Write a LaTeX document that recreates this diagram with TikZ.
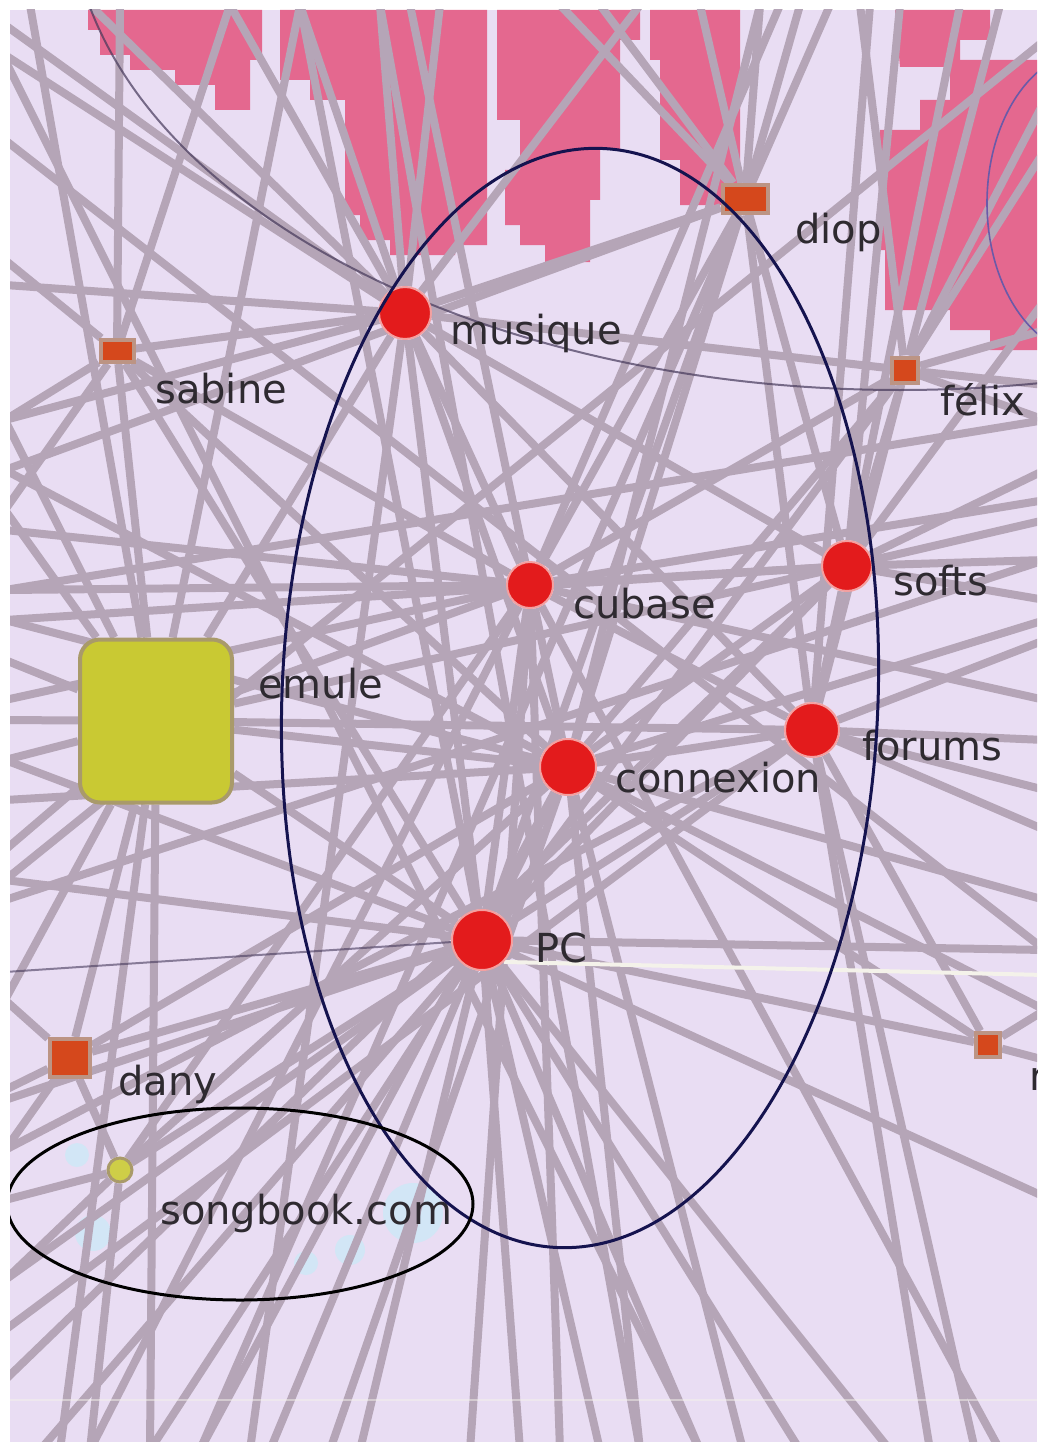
\documentclass[tikz,border=0pt]{standalone}
\usepackage{fontspec}
\setmainfont{DejaVu Sans}
\usetikzlibrary{calc}
\definecolor{SceneLav}{HTML}{E9DDF3}
\definecolor{ScenePink}{HTML}{E4688F}
\definecolor{LinkGray}{HTML}{B5A5B7}
\definecolor{HubRed}{HTML}{E31B1C}
\definecolor{HubRim}{HTML}{F3A0A0}
\definecolor{PeerOrange}{HTML}{D5481C}
\definecolor{PeerRim}{HTML}{BC9484}
\definecolor{EmuleYellow}{HTML}{C9C933}
\definecolor{EmuleRim}{HTML}{A99A6A}
\definecolor{ClusterNavy}{HTML}{15134F}
\definecolor{DuskLine}{HTML}{45385A}
\definecolor{ArcViolet}{HTML}{6A5AA8}
\definecolor{LabelInk}{HTML}{2E2A30}
\definecolor{PaleBlue}{HTML}{D2E6F6}
\definecolor{TraceWhite}{HTML}{F4F2EA}
\pgfdeclarelayer{scenery}
\pgfdeclarelayer{wires}
\pgfsetlayers{scenery,wires,main}

\begin{document}
\begin{tikzpicture}[x=1pt, y=-1pt,
  link/.style={LinkGray, line width=8pt},
  hub/.style={circle, fill=HubRed, draw=HubRim, line width=2pt, inner sep=0pt, minimum size=#1},
  peer/.style 2 args={rectangle, fill=PeerOrange, draw=PeerRim, line width=4pt, inner sep=0pt, minimum width=#1, minimum height=#2},
  tag/.style={font=\fontsize{40}{48}\selectfont, text=LabelInk, anchor=base west, inner sep=0pt},
  ring/.style={line width=3pt}]
\useasboundingbox (0,0) rectangle (1037,1442);

% page, lavender field and pink blobs
\begin{pgfonlayer}{scenery}
\fill[white] (0,0) rectangle (1037,1442);
\fill[SceneLav] (10,10) rectangle (1037,1442);
\begin{scope}
\clip (10,10) rectangle (1037,1442);
\fill[ScenePink] (88,10) -- (262,10) -- (262,60) -- (250,60) -- (250,110) -- (215,110) -- (215,85)
  -- (175,85) -- (175,70) -- (130,70) -- (130,55) -- (100,55) -- (100,30) -- (88,30) -- cycle;
\fill[ScenePink] (280,10) -- (487,10) -- (487,245) -- (455,245) -- (455,255) -- (390,255) -- (390,240)
  -- (360,240) -- (360,215) -- (345,215) -- (345,100) -- (310,100) -- (310,80) -- (280,80) -- cycle;
\fill[ScenePink] (497,10) -- (640,10) -- (640,40) -- (620,40) -- (620,150) -- (600,150) -- (600,200)
  -- (590,200) -- (590,262) -- (545,262) -- (545,245) -- (520,245) -- (520,225) -- (505,225)
  -- (505,170) -- (520,170) -- (520,120) -- (497,120) -- cycle;
\fill[ScenePink] (650,10) -- (740,10) -- (740,205) -- (680,205) -- (680,160) -- (660,160) -- (660,60)
  -- (650,60) -- cycle;
\fill[ScenePink] (895,10) -- (990,10) -- (990,40) -- (960,40) -- (960,67) -- (900,67) -- cycle;
\fill[ScenePink] (880,130) -- (920,130) -- (920,100) -- (950,100) -- (950,60) -- (1037,60) -- (1037,350)
  -- (990,350) -- (990,330) -- (950,330) -- (950,310) -- (885,310) -- (885,250) -- (880,250) -- cycle;
% pale blue spots near songbook
\foreach \x/\y/\r in {77/1155/12, 93/1233/18, 306/1263/12, 413/1213/30, 350/1250/15}
  \fill[PaleBlue] (\x,\y) circle (\r);
\end{scope}
\end{pgfonlayer}

\begin{scope}
\clip (10,10) rectangle (1037,1442);
% nodes
\node[hub=52pt] (musique) at (405,313) {};
\node[hub=46pt] (cubase) at (530,585) {};
\node[hub=50pt] (softs) at (847,566) {};
\node[hub=54pt] (forums) at (812,730) {};
\node[hub=56pt] (connexion) at (568,767) {};
\node[hub=60pt] (pc) at (482,940) {};
\node[peer={45pt}{28pt}] (diop) at (745,199) {};
\node[peer={33pt}{22pt}] (sabine) at (117,351) {};
\node[peer={26pt}{25pt}] (felix) at (905,370) {};
\node[peer={40pt}{38pt}] (dany) at (70,1058) {};
\node[peer={24pt}{24pt}] (rnode) at (988,1045) {};
\node[rectangle, rounded corners=20pt, fill=EmuleYellow, draw=EmuleRim, line width=4pt,
  minimum width=152pt, minimum height=163pt] (emule) at (156,721) {};
\node[circle, fill=EmuleYellow!90!white, draw=EmuleRim, line width=3pt, inner sep=0pt,
  minimum size=24pt] (songbook) at (120,1170) {};

% labels
\node[tag] (musiquetag) at (450,344) {musique};
\node[tag] (dioptag) at (795,243) {diop};
\node[tag] (sabinetag) at (155,403) {sabine};
\node[tag] (felixtag) at (940,415) {félix};
\node[tag] (cubasetag) at (573,618) {cubase};
\node[tag] (softstag) at (893,595) {softs};
\node[tag] (emuletag) at (258,698) {emule};
\node[tag] (forumstag) at (862,760) {forums};
\node[tag] (connexiontag) at (615,792) {connexion};
\node[tag] (pctag) at (535,962) {PC};
\node[tag] (danytag) at (118,1095) {dany};
\node[tag] (songbooktag) at (160,1224) {songbook.com};
\node[tag] (rnodetag) at (1029,1090) {r};

% cluster rings
\draw[ClusterNavy, ring, rotate around={-2.3:(580,698)}] (580,698) ellipse (298 and 550);
\draw[black, ring] (240,1204) ellipse (233 and 96);
\draw[ArcViolet, line width=1.6pt] (1090,203) ellipse (103 and 152);
\draw[TraceWhite, line width=2pt, opacity=.5] (10,1400) -- (1037,1400);
\end{scope}

% links between nodes and to nodes off the screen
\begin{pgfonlayer}{wires}
\begin{scope}
\clip (10,10) rectangle (1037,1442);
\foreach \a/\b in {musique/sabine, musique/felix, musique/cubase, musique/connexion, musique/pc,
    musique/forums, musique/softs, musique/emule, musique/diop,
    diop/connexion, diop/pc, diop/cubase, diop/forums, diop/softs,
    sabine/emule, sabine/connexion, sabine/cubase, sabine/pc,
    felix/connexion, felix/pc, felix/cubase, felix/forums, felix/softs,
    cubase/connexion, cubase/pc, cubase/softs, cubase/forums, cubase/emule,
    softs/forums, softs/connexion, softs/pc, softs/emule,
    emule/connexion, emule/pc, emule/forums, emule/dany,
    forums/connexion, forums/pc, forums/rnode,
    connexion/pc, connexion/rnode, connexion/dany,
    pc/rnode, pc/dany, pc/songbook, songbook/cubase, songbook/connexion, dany/songbook}
  \draw[link] (\a) -- (\b);
\foreach \n/\x/\y in {musique/5/25, musique/5/55, musique/90/5, musique/230/5, musique/300/5,
    musique/380/5, musique/440/5, musique/640/5, musique/5/285, musique/5/420, musique/250/1450,
    diop/560/5, diop/600/5, diop/700/5, diop/760/5, diop/800/5, diop/830/5, diop/5/470, diop/200/1450,
    sabine/120/5, sabine/5/420, sabine/5/260, sabine/5/510, sabine/230/5,
    felix/860/5, felix/1000/5, felix/1045/100, felix/1045/150, felix/1045/330, felix/1045/385, felix/1045/420,
    cubase/5/530, cubase/5/700, cubase/90/1450, cubase/470/1450, cubase/560/1450, cubase/1000/1450,
    cubase/1045/500, cubase/1045/700, cubase/780/5, cubase/410/5, cubase/5/590,
    softs/1045/470, softs/1045/560, softs/1045/600, softs/1045/300, softs/960/5, softs/900/5,
    softs/5/620, softs/5/1380, softs/1045/520,
    emule/5/420, emule/5/510, emule/5/660, emule/5/720, emule/5/760, emule/5/850, emule/5/1000,
    emule/30/5, emule/60/1450, emule/150/1450, emule/300/5,
    forums/1045/740, forums/1045/790, forums/1045/830, forums/975/1450, forums/930/1450,
    forums/5/1150, forums/5/1330, forums/1045/640, forums/870/5,
    connexion/5/620, connexion/5/800, connexion/200/1450, connexion/330/1450, connexion/640/1450,
    connexion/743/1450, connexion/1045/900, connexion/1045/1010, connexion/1045/620, connexion/5/470,
    connexion/760/5,
    pc/5/1100, pc/5/1280, pc/40/1450, pc/150/1450, pc/270/1450, pc/360/1450, pc/520/1450,
    pc/600/1450, pc/700/1450, pc/800/1450, pc/890/1450, pc/1045/1197, pc/1045/950,
    pc/5/760, pc/5/880, pc/300/5,
    rnode/1045/1010, rnode/1045/1060,
    dany/5/1000, dany/5/1090, dany/5/1150,
    songbook/5/1200, songbook/5/1280, songbook/90/1450}
  {\coordinate (farend) at (\x,\y);
   \draw[link] (\n) -- (farend);}
% a few long links passing through
\foreach \xa/\ya/\xb/\yb in {5/140/1045/950, 5/60/700/1450, 1045/40/5/880,
    5/590/1045/420, 380/5/640/1450, 5/900/1045/560}
  {\coordinate (fara) at (\xa,\ya); \coordinate (farb) at (\xb,\yb);
   \draw[link] (fara) -- (farb);}
% traces left by the display
\coordinate (pcwest) at (5,972);
\coordinate (pceast) at (1045,975);
\draw[DuskLine, line width=2pt, opacity=.6] (pc) -- (pcwest);
\draw[TraceWhite, line width=4pt] (pc.south east) -- (pceast);
\draw[DuskLine, line width=2pt, opacity=.7] (900,-100) ellipse (830 and 490);
\end{scope}
\end{pgfonlayer}
\end{tikzpicture}
\end{document}
